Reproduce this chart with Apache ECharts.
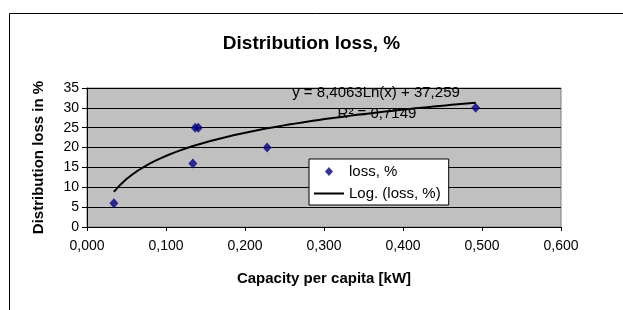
<!DOCTYPE html>
<html>
<head>
<meta charset="utf-8">
<script src="https://cdn.jsdelivr.net/npm/echarts@6/dist/echarts.min.js"></script>
<style>html,body{margin:0;padding:0;background:#fff}#c{width:623px;height:310px}</style>
</head>
<body>
<div id="c"></div>
<script>
// Data
var capacity = [0.034, 0.134, 0.137, 0.141, 0.228, 0.492];
var lossPct  = [6, 16, 25, 25, 20, 30];
// Logarithmic trendline as printed on the chart: y = a*Ln(x) + b
var trendA = 8.4063;
var trendB = 37.259;
var trendText = 'y = 8,4063Ln(x) + 37,259';
var r2Text = 'R² = 0,7149';
var xTicks = [0, 0.1, 0.2, 0.3, 0.4, 0.5, 0.6];
var yTicks = [0, 5, 10, 15, 20, 25, 30, 35];

var scatterData = capacity.map(function (x, i) { return [x, lossPct[i]]; });
var xMinD = Math.min.apply(null, capacity), xMaxD = Math.max.apply(null, capacity);
var trendData = [];
for (var k = 0; k <= 60; k++) {
  var x = xMinD + (xMaxD - xMinD) * k / 60;
  trendData.push([x, trendA * Math.log(x) + trendB]);
}

var F = 'Liberation Sans, Arial, sans-serif';
var chart = echarts.init(document.getElementById('c'), null, {renderer: 'canvas'});
chart.setOption({
  animation: false,
  backgroundColor: '#fff',
  title: {
    text: 'Distribution loss, %', left: 'center', top: 29,
    textStyle: {fontFamily: F, fontSize: 19, fontWeight: 'bold', color: '#000'}
  },
  grid: {
    left: 87, top: 88, width: 474, height: 139,
    show: true, backgroundColor: '#c0c0c0', borderColor: '#808080', borderWidth: 1
  },
  xAxis: {
    type: 'value', min: xTicks[0], max: xTicks[xTicks.length - 1], interval: 0.1,
    name: 'Capacity per capita [kW]', nameLocation: 'middle', nameGap: 44,
    nameTextStyle: {fontFamily: F, fontSize: 15, fontWeight: 'bold', color: '#000'},
    axisLine: {lineStyle: {color: '#000', width: 1}},
    axisTick: {show: true, length: 4, lineStyle: {color: '#000'}},
    axisLabel: {fontFamily: F, fontSize: 14, color: '#000', margin: 12,
      formatter: function (v) { return v.toFixed(3).replace('.', ','); }},
    splitLine: {show: false}
  },
  yAxis: {
    type: 'value', min: yTicks[0], max: yTicks[yTicks.length - 1], interval: 5,
    name: 'Distribution loss in %', nameLocation: 'middle', nameGap: 41, nameRotate: 90,
    nameTextStyle: {fontFamily: F, fontSize: 15, fontWeight: 'bold', color: '#000'},
    axisLine: {show: true, lineStyle: {color: '#000', width: 1}},
    axisTick: {show: true, length: 5, lineStyle: {color: '#000'}},
    axisLabel: {fontFamily: F, fontSize: 14, color: '#000', margin: 8},
    splitLine: {show: true, lineStyle: {color: '#000', width: 1}}
  },
  legend: {
    orient: 'vertical', left: 309, top: 159,
    backgroundColor: '#fff', borderColor: '#000', borderWidth: 1,
    padding: [5, 8, 4, 5], itemWidth: 30, itemHeight: 9, itemGap: 7,
    symbolKeepAspect: true,
    textStyle: {fontFamily: F, fontSize: 15, color: '#000'},
    data: [
      {name: 'loss, %', icon: 'path://M4,0 L8,4.5 L4,9 L0,4.5 Z', itemStyle: {color: '#000080'}},
      {name: 'Log. (loss, %)', icon: 'path://M0,0 L30,0 L30,2 L0,2 Z', itemStyle: {color: '#000'}}
    ]
  },
  series: [
    {
      name: 'loss, %', type: 'scatter', data: scatterData,
      symbol: 'diamond', symbolSize: [9, 10], symbolKeepAspect: true,
      itemStyle: {color: '#000080'}, z: 3
    },
    {
      name: 'Log. (loss, %)', type: 'line', data: trendData,
      symbol: 'none', showSymbol: false, smooth: false,
      lineStyle: {color: '#000', width: 2}, itemStyle: {color: '#000'}, z: 4
    }
  ],
  graphic: [
    {type: 'rect', left: 7, top: 11, shape: {width: 700, height: 400},
      style: {fill: 'none', stroke: '#000', lineWidth: 1}, z: 100, silent: true},
    {type: 'text', x: 376, y: 93, z: 50,
      style: {text: trendText, fontFamily: F, fontSize: 15, fill: '#000', align: 'center', verticalAlign: 'middle'}},
    {type: 'text', x: 377, y: 114, z: 50,
      style: {text: r2Text, fontFamily: F, fontSize: 15, fill: '#000', align: 'center', verticalAlign: 'middle'}}
  ]
});
</script>
</body>
</html>
